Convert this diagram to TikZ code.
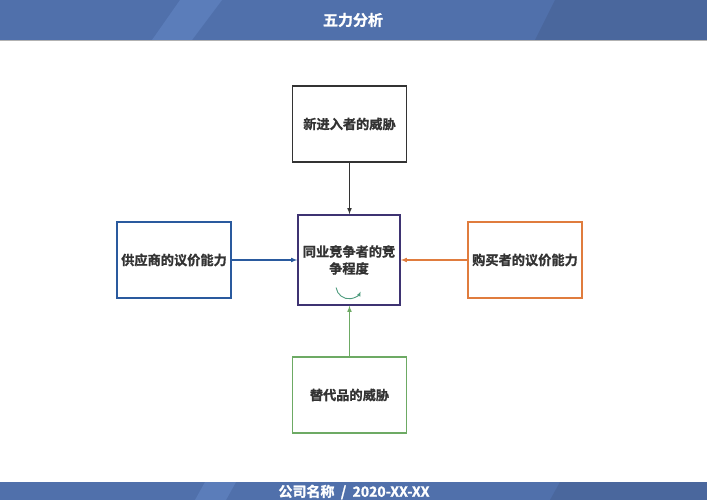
\documentclass[tikz,border=0pt]{standalone}
\usepackage{fontspec}
\setmainfont{Noto Sans CJK SC}[BoldFont={* Bold}, BoldFeatures={FakeBold=1.2}]
\usetikzlibrary{calc, positioning, arrows.meta}
\definecolor{band blue}{HTML}{5070AB}
\definecolor{band light}{HTML}{5B7DBA}
\definecolor{band dark}{HTML}{4A679D}
\definecolor{text gray}{HTML}{333333}
\definecolor{frame dark}{HTML}{333333}
\definecolor{frame purple}{HTML}{3E3372}
\definecolor{frame blue}{HTML}{2A5A9E}
\definecolor{frame orange}{HTML}{E07C3E}
\definecolor{frame green}{HTML}{6DAA64}
\definecolor{swirl green}{HTML}{4E9C7E}

\begin{document}
\begin{tikzpicture}[x=1pt, y=-1pt,
    box/.style={draw, line width=1.6pt, fill=white, minimum width=114pt, minimum height=76pt,
      inner sep=2pt, align=center, text=text gray, font=\bfseries\fontsize{13.2}{17}\selectfont},
    arr/.style={->, line width=1.1pt, >=latex}]
    \useasboundingbox (0,0) rectangle (707,500);
    \fill[white] (0,0) rectangle (707,500);
    % header band
    \fill[band blue] (0,0) rectangle (707,40);
    \fill[band light] (180,0) -- (222,0) -- (192,40) -- (152,40) -- cycle;
    \fill[band dark] (555,0) -- (707,0) -- (707,40) -- (535,40) -- cycle;
    \draw[gray!60, line width=0.8pt] (0,40.5) -- (707,40.5);
    \node[text=white, font=\bfseries\fontsize{15}{18}\selectfont] (title) at (353,20) {五力分析};
    % footer band
    \fill[band blue] (0,482) rectangle (707,500);
    \fill[band light] (205,482) -- (236,482) -- (226,500) -- (195,500) -- cycle;
    \fill[band dark] (560,482) -- (707,482) -- (707,500) -- (550,500) -- cycle;
    \node[text=white, font=\bfseries\fontsize{14}{16}\selectfont] (footer) at (354,492) {公司名称\ \ /\ \ 2020-XX-XX};
    % five forces
    \node[box, draw=frame purple, minimum width=102pt, minimum height=90pt] (rivalry) at (349,260) {同业竞争者的竞\\争程度};
    \node[box, draw=frame dark] (entrant) at (349.5,124) {新进入者的威胁};
    \node[box, draw=frame blue] (supplier) at (174,260) {供应商的议价能力};
    \node[box, draw=frame orange] (buyer) at (525,260) {购买者的议价能力};
    \node[box, draw=frame green] (substitute) at (349.5,395) {替代品的威胁};
    \draw[arr, frame dark] (entrant.south) -- (entrant.south |- rivalry.north);
    \draw[arr, frame blue] (supplier.east) -- (rivalry.west);
    \draw[arr, frame orange] (buyer.west) -- (rivalry.east);
    \draw[arr, frame green] (substitute.north) -- (substitute.north |- rivalry.south);
    \draw[-{Latex[length=5pt]}, swirl green, line width=0.9pt] ([shift={(-12.9,-18.2)}]rivalry.south)
      arc[start angle=172, end angle=25, radius=13];
\end{tikzpicture}
\end{document}
